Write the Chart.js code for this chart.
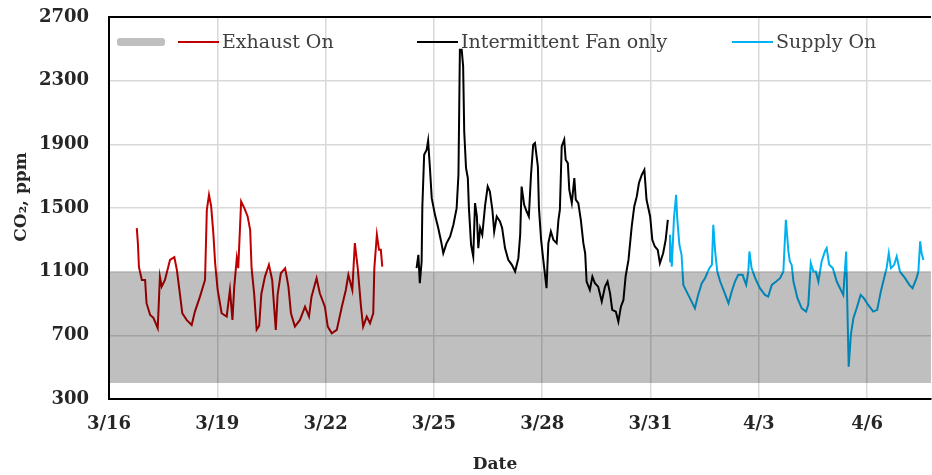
<!DOCTYPE html>
<html lang="en">
<head>
    <meta charset="UTF-8"/>
    <title>CO2 by ventilation mode</title>
    <style>
        html, body {
            margin: 0;
            padding: 0;
            background: #fff;
            overflow: hidden;
        }

        #wrap {
            position: relative;
            width: 932px;
            height: 475px;
        }
    </style>
    <script src="https://cdn.jsdelivr.net/npm/chart.js@4/dist/chart.umd.min.js"></script>
</head>
<body>
<div id="wrap"><canvas id="co2"></canvas></div>

<script>
    // Tick labels (x is days since 3/16, one tick every 3 days)
    const dateTicks = ['3/16', '3/19', '3/22', '3/25', '3/28', '3/31', '4/3', '4/6'];
    const dayMax = 22.77;
    const co2Min = 300;
    const co2Max = 2700;
    const co2Step = 400;

    // Grey target band
    const bandRange = [400, 1100];

    // Exhaust On
    const exhaustDay = [0.77, 0.80, 0.83, 0.91, 1.00, 1.04, 1.14, 1.23, 1.35, 1.41, 1.46, 1.55, 1.69, 1.81,
        1.88, 1.95, 2.03, 2.15, 2.29, 2.38, 2.52, 2.66, 2.71, 2.77, 2.83, 2.89, 2.94, 3.01, 3.12, 3.26,
        3.35, 3.42, 3.47, 3.54, 3.58, 3.66, 3.75, 3.84, 3.91, 3.95, 4.02, 4.09, 4.16, 4.22, 4.32, 4.43,
        4.52, 4.62, 4.67, 4.76, 4.88, 4.97, 5.04, 5.15, 5.29, 5.43, 5.54, 5.61, 5.75, 5.84, 5.98, 6.06,
        6.17, 6.31, 6.45, 6.56, 6.63, 6.74, 6.81, 6.89, 6.98, 7.04, 7.14, 7.23, 7.32, 7.35, 7.42, 7.48,
        7.53, 7.57];
    const exhaustCO2 = [1374, 1279, 1128, 1048, 1048, 902, 828, 810, 745, 1069, 1006, 1048, 1174, 1191,
        1111, 985, 839, 797, 765, 849, 943, 1048, 1489, 1583, 1510, 1342, 1154, 985, 839, 818,
        985, 797, 1006, 1185, 1122, 1541, 1499, 1447, 1363, 1122, 964, 735, 760, 960, 1069, 1143,
        1048, 734, 954, 1090, 1122, 1006, 839, 755, 797, 880, 818, 943, 1059, 964, 880, 755,
        713, 734, 880, 985, 1080, 985, 1279, 1122, 880, 755, 818, 776, 839, 1122, 1332, 1237,
        1237, 1132];

    // Intermittent Fan only
    const fanDay = [8.52, 8.57, 8.61, 8.66, 8.68, 8.73, 8.80, 8.84, 8.89, 8.94, 9.03, 9.12, 9.20, 9.26,
        9.35, 9.45, 9.54, 9.63, 9.68, 9.72, 9.77, 9.81, 9.84, 9.89, 9.94, 9.97, 10.03, 10.09, 10.14,
        10.19, 10.23, 10.28, 10.34, 10.42, 10.49, 10.55, 10.62, 10.67, 10.74, 10.83, 10.89, 10.97, 11.06,
        11.16, 11.25, 11.34, 11.39, 11.43, 11.50, 11.57, 11.63, 11.69, 11.75, 11.80, 11.88, 11.91, 11.97,
        12.03, 12.12, 12.17, 12.24, 12.31, 12.40, 12.45, 12.49, 12.54, 12.61, 12.65, 12.71, 12.75, 12.82,
        12.89, 12.93, 13.00, 13.07, 13.14, 13.19, 13.23, 13.32, 13.39, 13.46, 13.55, 13.65, 13.74, 13.81,
        13.88, 13.94, 14.04, 14.11, 14.18, 14.25, 14.31, 14.39, 14.48, 14.55, 14.62, 14.68, 14.76, 14.83,
        14.89, 14.99, 15.05, 15.12, 15.20, 15.26, 15.35, 15.42, 15.48];
    const fanCO2 = [1122, 1206, 1028, 1164, 1510, 1835, 1866, 1923, 1751, 1562, 1457, 1374, 1290, 1216,
        1279, 1321, 1395, 1499, 1709, 2495, 2495, 2390, 1981, 1751, 1688, 1499, 1269, 1195, 1531,
        1447, 1248, 1374, 1332, 1520, 1635, 1604, 1489, 1352, 1447, 1415, 1374, 1248, 1174,
        1143, 1101, 1185, 1332, 1635, 1520, 1478, 1447, 1709, 1898, 1908, 1761, 1499, 1300,
        1174, 996, 1279, 1352, 1300, 1279, 1426, 1489, 1887, 1929, 1803, 1782, 1615, 1531,
        1688, 1552, 1531, 1426, 1279, 1216, 1038, 985, 1069, 1028, 1006, 912, 1006, 1038,
        964, 860, 849, 786, 880, 922, 1069, 1174, 1384, 1510, 1573, 1657, 1709, 1740,
        1552, 1447, 1300, 1258, 1237, 1153, 1216, 1300, 1426];

    // Supply On
    const supplyDay = [15.52, 15.54, 15.59, 15.65, 15.71, 15.74, 15.80, 15.86, 15.91, 16.00, 16.14, 16.23,
        16.32, 16.42, 16.51, 16.63, 16.70, 16.74, 16.79, 16.85, 16.93, 17.04, 17.16, 17.25, 17.34, 17.43,
        17.55, 17.65, 17.71, 17.74, 17.80, 17.90, 18.03, 18.17, 18.26, 18.36, 18.48, 18.59, 18.68, 18.75,
        18.82, 18.86, 18.91, 18.96, 19.07, 19.19, 19.31, 19.37, 19.44, 19.51, 19.58, 19.65, 19.74, 19.83,
        19.88, 19.95, 20.05, 20.16, 20.25, 20.34, 20.42, 20.45, 20.49, 20.55, 20.62, 20.71, 20.82, 20.91,
        21.03, 21.17, 21.28, 21.38, 21.47, 21.54, 21.60, 21.66, 21.75, 21.82, 21.91, 22.05, 22.17, 22.26,
        22.37, 22.42, 22.47, 22.51, 22.56];
    const supplyCO2 = [1164, 1332, 1132, 1436, 1583, 1436, 1269, 1206, 1017, 975, 912, 870,
        954, 1028, 1059, 1122, 1143, 1395, 1227, 1101, 1038, 975, 902, 975, 1038, 1080,
        1080, 1017, 1101, 1227, 1122, 1059, 996, 954, 943, 1017, 1038, 1059, 1101, 1426,
        1227, 1164, 1143, 1038, 933, 870, 849, 891, 1154, 1101, 1101, 1038, 1164, 1227,
        1248, 1143, 1122, 1038, 996, 954, 1227, 912, 503, 703, 808, 870, 954, 933,
        891, 849, 860, 975, 1059, 1122, 1216, 1122, 1143, 1195, 1101, 1059, 1017, 996,
        1059, 1101, 1290, 1216, 1174];

    const SERIES = [
        {label: 'Exhaust On', days: exhaustDay, co2: exhaustCO2, color: '#c00000'},
        {label: 'Intermittent Fan only', days: fanDay, co2: fanCO2, color: '#000000'},
        {label: 'Supply On', days: supplyDay, co2: supplyCO2, color: '#00b0f0'}
    ];

    const TEXT = '#262626';
    const SERIF = "'DejaVu Serif', 'Liberation Serif', serif";

    function toPoints(days, vals) {
        return days.map((d, i) => ({x: d, y: vals[i]}));
    }

    // legend + top frame + axis titles, drawn by hand to match the original layout
    const decorPlugin = {
        id: 'decor',
        afterDraw(chart) {
            const {ctx, chartArea: a} = chart;
            ctx.save();

            // top frame line
            ctx.strokeStyle = '#000';
            ctx.lineWidth = 2;
            ctx.beginPath();
            ctx.moveTo(a.left - 1, a.top);
            ctx.lineTo(a.right, a.top);
            ctx.stroke();

            // legend
            const ly = a.top + 25;
            ctx.fillStyle = '#bfbfbf';
            ctx.beginPath();
            ctx.roundRect(a.left + 8, ly - 4, 48, 8, 3);
            ctx.fill();

            const legendX = [178, 417, 732];
            ctx.font = '19px ' + SERIF;
            ctx.textBaseline = 'middle';
            ctx.textAlign = 'left';
            SERIES.forEach((s, i) => {
                ctx.strokeStyle = s.color;
                ctx.lineWidth = 2;
                ctx.beginPath();
                ctx.moveTo(legendX[i], ly);
                ctx.lineTo(legendX[i] + 41, ly);
                ctx.stroke();
                ctx.fillStyle = '#404040';
                ctx.fillText(s.label, legendX[i] + 44, ly + 1);
            });

            // axis titles
            ctx.fillStyle = TEXT;
            ctx.font = 'bold 17px ' + SERIF;
            ctx.textAlign = 'center';
            ctx.fillText('Date', 495, 465);

            ctx.translate(22, 197);
            ctx.rotate(-Math.PI / 2);
            ctx.font = 'bold 17px ' + SERIF;
            ctx.fillText('CO\u2082, ppm', 0, 0);
            ctx.restore();
        }
    };

    const datasets = SERIES.map(s => ({
        label: s.label,
        data: toPoints(s.days, s.co2),
        borderColor: s.color,
        borderWidth: 2,
        pointRadius: 0,
        fill: false,
        tension: 0
    }));

    // grey band drawn on top of the grid, semi-transparent like the original
    datasets.unshift({
        label: 'band',
        data: [{x: 0, y: bandRange[1]}, {x: dayMax, y: bandRange[1]}],
        borderWidth: 0,
        pointRadius: 0,
        backgroundColor: 'rgba(0,0,0,0.25)',
        fill: {value: bandRange[0]}
    });

    new Chart(document.getElementById('co2'), {
        type: 'line',
        data: {datasets},
        plugins: [decorPlugin],
        options: {
            animation: false,
            responsive: true,
            maintainAspectRatio: false,
            layout: {padding: {left: 0, right: 1, top: 17, bottom: 0}},
            plugins: {
                legend: {display: false},
                tooltip: {enabled: false}
            },
            scales: {
                x: {
                    type: 'linear',
                    min: 0,
                    max: dayMax,
                    afterFit: s => { s.height = 76; },
                    grid: {color: '#d9d9d9', lineWidth: 1.5, drawTicks: false},
                    border: {color: '#000', width: 2},
                    ticks: {
                        stepSize: 3,
                        includeBounds: false,
                        padding: 15,
                        maxRotation: 0,
                        color: TEXT,
                        font: {family: SERIF, size: 18, weight: 'bold'},
                        callback: v => dateTicks[Math.round(v / 3)]
                    }
                },
                y: {
                    min: co2Min,
                    max: co2Max,
                    afterFit: s => {
                        s.width = 109;
                        s.paddingTop = 0;
                        s.paddingBottom = 0;
                    },
                    grid: {color: '#d9d9d9', lineWidth: 1.5, drawTicks: false},
                    border: {color: '#000', width: 2},
                    ticks: {
                        stepSize: co2Step,
                        padding: 20,
                        color: TEXT,
                        font: {family: SERIF, size: 18, weight: 'bold'},
                        callback: v => String(v)
                    }
                }
            }
        }
    });
</script>
</body>
</html>
